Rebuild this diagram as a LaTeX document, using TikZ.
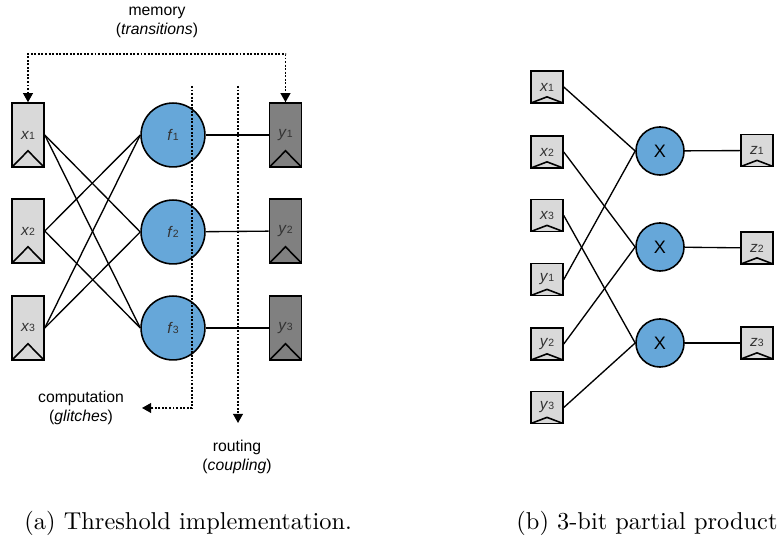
\documentclass[tikz,border=0pt]{standalone}
\usepackage{fontspec}
\setsansfont{Liberation Sans}
\usetikzlibrary{arrows.meta}

\definecolor{funblue}{RGB}{102,167,217}
\definecolor{reglight}{RGB}{217,217,217}
\definecolor{regdark}{RGB}{128,128,128}
\definecolor{labgray}{RGB}{51,51,51}

\newcommand\sig[2]{\textit{#1}{\fontsize{4.3}{5}\selectfont #2}}

\begin{document}
\begin{tikzpicture}[
    x=0.41pt, y=-0.41pt,
    reg/.style={rectangle, draw, line width=0.65pt, fill=reglight, inner sep=0pt,
                minimum width=13.1pt, text=labgray, font=\sffamily\fontsize{6.3}{7}\selectfont},
    regtall/.style={reg, minimum height=26.2pt,
                path picture={\draw[line width=0.65pt] (path picture bounding box.south west)
                  -- ([yshift=6.6pt]path picture bounding box.south) -- (path picture bounding box.south east);}},
    regout/.style={regtall, fill=regdark},
    regsq/.style={reg, minimum height=13.1pt,
                path picture={\draw[line width=0.65pt] (path picture bounding box.south west)
                  -- ([yshift=2.5pt]path picture bounding box.south) -- (path picture bounding box.south east);}},
    fun/.style={circle, draw, line width=0.65pt, fill=funblue, inner sep=0pt,
                minimum size=26.2pt, text=labgray, font=\sffamily\fontsize{6.3}{7}\selectfont},
    mul/.style={fun, minimum size=19.7pt, text=black, font=\sffamily\fontsize{7.4}{8}\selectfont},
    wire/.style={line width=0.55pt},
    dots/.style={line width=0.55pt, dash pattern=on 0.8pt off 0.65pt},
    tip/.style={dots, -{Triangle[length=3.7pt, width=4pt]}},
    note/.style={align=center, font=\sffamily\fontsize{6.45}{7.8}\selectfont},
    captext/.style={inner sep=0pt, font=\fontsize{10}{12}\selectfont},
]
\useasboundingbox (0,0) rectangle (780,540);

% (a) threshold implementation
\node[regtall] (x1) at (28,135) {\sig{x}{1}};
\node[regtall] (x2) at (28,231) {\sig{x}{2}};
\node[regtall] (x3) at (28,328) {\sig{x}{3}};

\node[fun] (f1) at (173,135) {\sig{f}{1}};
\node[fun] (f2) at (173,232) {\sig{f}{2}};
\node[fun] (f3) at (173,328) {\sig{f}{3}};

\node[regout] (y1) at (285.5,135) {\sig{y}{1}};
\node[regout] (y2) at (285.5,231) {\sig{y}{2}};
\node[regout] (y3) at (285.5,328) {\sig{y}{3}};

% shares into the functions
\draw[wire] (x1.east) -- (f2.west);
\draw[wire] (x1.east) -- (f3.west);
\draw[wire] (x2.east) -- (f1.west);
\draw[wire] (x2.east) -- (f3.west);
\draw[wire] (x3.east) -- (f1.west);
\draw[wire] (x3.east) -- (f2.west);

\draw[wire] (f1) -- (y1);
\draw[wire] (f2) -- (y2);
\draw[wire] (f3) -- (y3);

% memory
\node[note] (mem) at (157,22.5) {memory\\(\textit{transitions})};
\coordinate (memtop) at (157,54);
\draw[tip, {Triangle[length=3.7pt, width=4pt]}-{Triangle[length=3.7pt, width=4pt]}]
    (x1.north) |- (memtop) -| (y1.north);

% computation / routing
\node[note] (comp) at (81,407.5) {computation\\(\textit{glitches})};
\coordinate (comptop) at (192,86);
\coordinate (compbend) at (192,408);
\coordinate (compend) at (142,408);
\draw[tip] (comptop) -- (compbend) -- (compend);

\node[note] (rout) at (237,456.5) {routing\\(\textit{coupling})};
\coordinate (routtop) at (238,86);
\coordinate (routend) at (238,423);
\draw[tip] (routtop) -- (routend);

% (b) partial products
\node[regsq] (px1) at (547,87) {\sig{x}{1}};
\node[regsq] (px2) at (547,152) {\sig{x}{2}};
\node[regsq] (px3) at (547,215.5) {\sig{x}{3}};
\node[regsq] (py1) at (547,279.5) {\sig{y}{1}};
\node[regsq] (py2) at (547,344) {\sig{y}{2}};
\node[regsq] (py3) at (547,407.5) {\sig{y}{3}};

\node[mul] (m1) at (660,151) {X};
\node[mul] (m2) at (660,247) {X};
\node[mul] (m3) at (660,343) {X};

\node[regsq] (z1) at (757,150.5) {\sig{z}{1}};
\node[regsq] (z2) at (757,248) {\sig{z}{2}};
\node[regsq] (z3) at (757,343) {\sig{z}{3}};

\draw[wire] (px1.east) -- (m1.west);
\draw[wire] (py1.east) -- (m1.west);
\draw[wire] (px2.east) -- (m2.west);
\draw[wire] (py2.east) -- (m2.west);
\draw[wire] (px3.east) -- (m3.west);
\draw[wire] (py3.east) -- (m3.west);

\draw[wire] (m1) -- (z1);
\draw[wire] (m2) -- (z2);
\draw[wire] (m3) -- (z3);

% captions
\node[captext, anchor=base west] (capa) at (24,530) {(a) Threshold implementation.};
\node[captext, anchor=base east] (capb) at (778,530) {(b) 3-bit partial product};

\end{tikzpicture}
\end{document}
